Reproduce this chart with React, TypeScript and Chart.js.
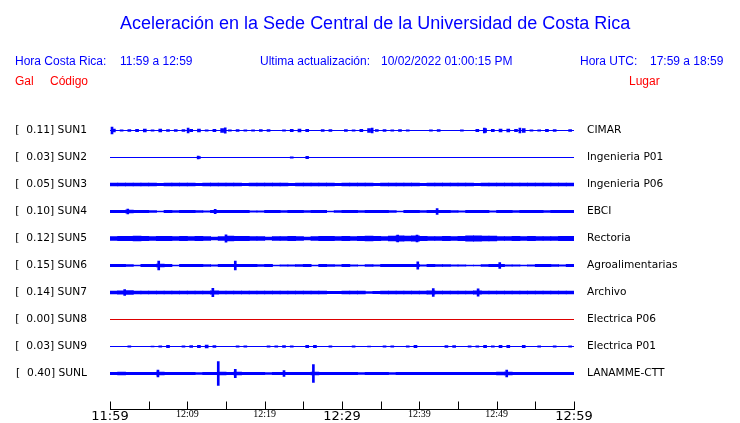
import React, { useEffect, useRef } from "react";
import { Chart, registerables } from "chart.js";
Chart.register(...registerables);

// ---------- data ----------
const codes = ["SUN1", "SUN2", "SUN3", "SUN4", "SUN5", "SUN6", "SUN7", "SUN8", "SUN9", "SUNL"];
const places = ["CIMAR", "Ingenieria P01", "Ingenieria P06", "EBCI", "Rectoria", "Agroalimentarias", "Archivo", "Electrica P06", "Electrica P01", "LANAMME-CTT"];
const peaksGal = [0.11, 0.03, 0.05, 0.1, 0.12, 0.15, 0.14, 0.0, 0.03, 0.4];
const timeLabels = ["11:59", "12:09", "12:19", "12:29", "12:39", "12:49", "12:59"];

// per-minute half envelope (Gal), minute 0..59 from 11:59
const sun1 = [0.05,0.02,0.03,0.04,0.05,0.02,0.05,0.03,0.03,0.03, 0.04,0.05,0.02,0.04,0.06,0.02,0.03,0.02,0.02,0.03, 0.03,0,0.02,0.04,0.05,0.04,0,0.03,0.03,0, 0.03,0.02,0.04,0.06,0.03,0.03,0.02,0.03,0.02,0, 0,0.02,0.03,0,0,0.02,0,0.04,0.06,0.04, 0.05,0.05,0.04,0.06,0.02,0.02,0.04,0.03,0,0.03];
const sun2 = [0,0,0,0,0,0,0,0,0,0, 0,0.03,0,0,0,0,0,0,0,0, 0,0,0,0.02,0,0.03,0,0,0,0, 0,0,0,0,0,0,0,0,0,0, 0,0,0,0,0,0,0,0,0,0, 0,0,0,0,0,0,0,0,0,0];
const sun3 = [0.05,0.05,0.05,0.05,0.05,0.05,0.04,0.05,0.05,0.05, 0.05,0.04,0.05,0.05,0.05,0.05,0.05,0.04,0.05,0.05, 0.05,0.05,0.05,0.04,0.05,0.05,0.05,0.05,0.05,0.04, 0.05,0.05,0.05,0.05,0.04,0.05,0.05,0.05,0.05,0.05, 0.04,0.05,0.05,0.05,0.05,0.05,0.05,0.04,0.05,0.05, 0.05,0.05,0.05,0.05,0.05,0.05,0.05,0.05,0.05,0.05];
const sun4 = [0.035,0.04,0.045,0.035,0.035,0.03,0.015,0.035,0.03,0.035, 0.035,0.03,0.02,0.035,0.04,0.035,0.04,0.035,0.02,0.025, 0.035,0.035,0.03,0.035,0.035,0.03,0.035,0.035,0.015,0.03, 0.035,0.035,0.03,0.035,0.035,0.035,0.03,0.015,0.035,0.035, 0.03,0.035,0.04,0.035,0.03,0.02,0.035,0.035,0.035,0.025, 0.035,0.035,0.03,0.035,0.035,0.035,0.03,0.035,0.035,0.035];
const sun5 = [0.06,0.07,0.07,0.08,0.07,0.06,0.07,0.07,0.06,0.07, 0.06,0.07,0.06,0.05,0.06,0.08,0.07,0.07,0.06,0.06, 0.05,0.06,0.06,0.07,0.06,0.05,0.06,0.07,0.07,0.06, 0.07,0.06,0.07,0.08,0.07,0.06,0.08,0.09,0.08,0.09, 0.07,0.06,0.06,0.07,0.06,0.07,0.09,0.09,0.08,0.08, 0.06,0.06,0.07,0.06,0.07,0.06,0.06,0.06,0.07,0.07];
const sun6 = [0.04,0.04,0.03,0.015,0.04,0.04,0.05,0.04,0.015,0.04, 0.04,0.035,0.03,0.02,0.04,0.04,0.04,0.04,0.035,0.03, 0.035,0.015,0.02,0.02,0.03,0.035,0.015,0.035,0.03,0.02, 0.035,0.02,0.015,0.03,0.02,0.035,0.04,0.04,0.035,0.035, 0.02,0.035,0.03,0.03,0.025,0.02,0.015,0.015,0.03,0.04, 0.035,0.02,0.02,0.015,0.02,0.035,0.035,0.03,0.02,0.035];
const sun7 = [0.05,0.055,0.06,0.05,0.05,0.05,0.05,0.05,0.05,0.05, 0.05,0.05,0.05,0.055,0.05,0.05,0.05,0.05,0.05,0.05, 0.05,0.05,0.05,0.05,0.05,0.05,0.05,0.05,0.04,0.035, 0.05,0.05,0.05,0.03,0.035,0.05,0.05,0.05,0.05,0.045, 0.05,0.055,0.05,0.05,0.045,0.05,0.05,0.055,0.05,0.05, 0.05,0.05,0.05,0.05,0.05,0.05,0.05,0.05,0.05,0.05];
const sun8 = [0,0,0,0,0,0,0,0,0,0, 0,0,0,0,0,0,0,0,0,0, 0,0,0,0,0,0,0,0,0,0, 0,0,0,0,0,0,0,0,0,0, 0,0,0,0,0,0,0,0,0,0, 0,0,0,0,0,0,0,0,0,0];
const sun9 = [0,0,0.02,0,0,0.015,0.02,0.04,0,0.02, 0.03,0.04,0.05,0.03,0,0,0.02,0.02,0,0, 0.02,0.02,0.03,0.02,0,0.04,0.04,0,0.02,0, 0,0.02,0,0.015,0,0.02,0.02,0,0.02,0.035, 0,0,0,0.03,0.03,0,0.02,0.02,0.04,0.02, 0.04,0.04,0,0.04,0,0.02,0,0.02,0,0.02];
const sunL = [0.04,0.045,0.04,0.04,0.035,0.04,0.045,0.04,0.04,0.035, 0.04,0.03,0.04,0.04,0.05,0.04,0.045,0.035,0.04,0.04, 0.03,0.04,0.04,0.035,0.04,0.04,0.05,0.04,0.04,0.035, 0.04,0.04,0.03,0.04,0.035,0.04,0.03,0.04,0.04,0.035, 0.04,0.04,0.035,0.04,0.04,0.035,0.04,0.04,0.04,0.04, 0.045,0.05,0.04,0.035,0.04,0.04,0.035,0.04,0.04,0.04];
const traces = [sun1, sun2, sun3, sun4, sun5, sun6, sun7, sun8, sun9, sunL];

// isolated spikes: trace index, minute, half amplitude (Gal)
const spikeTrace = [0,0,0,0,0,0, 1,1, 3,3,3, 4,4,4, 5,5,5,5, 6,6,6,6, 9,9,9,9,9,9];
const spikeMinute = [0.26,10.1,14.9,33.9,48.4,53.0, 11.4,25.5, 2.3,13.6,42.3, 15.0,37.2,39.7, 6.3,16.2,39.8,50.4, 1.9,13.3,41.8,47.6, 6.2,14.0,16.2,22.5,26.3,51.3];
const spikeAmp = [0.11,0.08,0.09,0.08,0.08,0.08, 0.05,0.04, 0.08,0.07,0.1, 0.12,0.11,0.11, 0.15,0.15,0.12,0.1, 0.1,0.14,0.13,0.12, 0.11,0.4,0.14,0.1,0.3,0.11];

// ---------- style ----------
const BLUE = "#0000ff";
const DEAD = "#dd0000";
const ROWS_PER_GAL = 30 / 27;
const SPARSE = [0, 1, 8];

const upTicks = {
  id: "upTicks",
  afterDraw(chart: any) {
    const s = chart.scales.x;
    const ctx = chart.ctx;
    const y = Math.floor(chart.chartArea.bottom) + 0.5;
    ctx.save();
    ctx.strokeStyle = "#000";
    ctx.lineWidth = 1;
    s.ticks.forEach((t: any) => {
      const px = Math.round(s.getPixelForValue(t.value)) + 0.5;
      ctx.beginPath();
      ctx.moveTo(px, y);
      ctx.lineTo(px, y - 8);
      ctx.stroke();
    });
    ctx.restore();
  },
};

export default function App() {
  const ref = useRef<HTMLCanvasElement>(null);
  useEffect(() => {
    const datasets: any[] = [];
    traces.forEach((arr, i) => {
      datasets.push({
        type: "line",
        data: [{ x: 0, y: i }, { x: 60, y: i }],
        borderColor: i === 7 ? DEAD : BLUE,
        borderWidth: 1,
        pointRadius: 0,
        yAxisID: "y",
      });
      const pts = arr
        .map((a, m) => ({ x: m + 0.5, y: [i - a * ROWS_PER_GAL, i + a * ROWS_PER_GAL], a }))
        .filter((p) => p.a > 0)
        .map((p) => ({ x: p.x, y: p.y }));
      if (pts.length) {
        datasets.push({
          type: "bar",
          data: pts,
          backgroundColor: BLUE,
          borderWidth: 0,
          barThickness: SPARSE.includes(i) ? 3 : 8,
          grouped: false,
          yAxisID: "y",
        });
      }
    });
    datasets.push({
      type: "bar",
      data: spikeTrace.map((t, k) => ({
        x: spikeMinute[k],
        y: [t - spikeAmp[k] * ROWS_PER_GAL, t + spikeAmp[k] * ROWS_PER_GAL],
      })),
      backgroundColor: BLUE,
      borderWidth: 0,
      barThickness: 2,
      grouped: false,
      yAxisID: "y",
    });

    const rowTicks = (s: any) => {
      s.ticks = codes.map((_, i) => ({ value: i }));
    };
    const fixWidth = (w: number) => (s: any) => {
      s.width = w;
      s.paddingTop = 0;
      s.paddingBottom = 0;
    };

    const chart = new Chart(ref.current!, {
      type: "bar",
      data: { datasets },
      plugins: [upTicks],
      options: {
        responsive: false,
        animation: false,
        devicePixelRatio: 1,
        layout: { padding: { top: 103.5, left: 0, right: 0, bottom: 0 } },
        plugins: { legend: { display: false }, tooltip: { enabled: false } },
        scales: {
          x: {
            type: "linear",
            min: 0,
            max: 60,
            offset: false,
            position: "bottom",
            grid: { display: true, drawOnChartArea: false, drawTicks: false },
            border: { display: true, color: "#000", width: 1 },
            afterFit: (s: any) => {
              s.height = 13.5;
              s.paddingLeft = 0;
              s.paddingRight = 0;
            },
            ticks: {
              stepSize: 5,
              autoSkip: false,
              maxRotation: 0,
              padding: -1,
              color: "#000",
              callback: (v: any) => (Number(v) % 10 === 0 ? timeLabels[Number(v) / 10] : ""),
              font: (ctx: any) => {
                const v = ctx.tick ? ctx.tick.value : 0;
                return v % 30 === 0
                  ? { family: "DejaVu Sans", size: 13 }
                  : { family: "Liberation Serif", size: 10 };
              },
            },
          },
          y: {
            type: "linear",
            position: "left",
            reverse: true,
            min: -1,
            max: 31 / 3,
            grid: { display: false, drawTicks: false },
            border: { display: false },
            afterBuildTicks: rowTicks,
            afterFit: fixWidth(110),
            ticks: {
              padding: 23,
              color: "#000",
              font: { family: "DejaVu Sans", size: 10.7 },
              callback: (v: any) => `[  ${peaksGal[Number(v)].toFixed(2)}] ${codes[Number(v)]}`,
            },
          },
          y2: {
            type: "linear",
            position: "right",
            reverse: true,
            min: -1,
            max: 31 / 3,
            grid: { display: false, drawTicks: false },
            border: { display: false },
            afterBuildTicks: rowTicks,
            afterFit: fixWidth(166),
            ticks: {
              padding: 13,
              color: "#000",
              font: { family: "DejaVu Sans", size: 10.6 },
              callback: (v: any) => places[Number(v)],
            },
          },
        },
      },
    });
    return () => chart.destroy();
  }, []);

  const t = (left: number, top: number, size: number, color: string, text: string) => (
    <div
      style={{
        position: "absolute",
        left,
        top,
        fontFamily: "'Liberation Sans', Arial, sans-serif",
        fontSize: size,
        lineHeight: `${size}px`,
        color,
        whiteSpace: "pre",
      }}
    >
      {text}
    </div>
  );

  return (
    <div style={{ position: "absolute", left: 0, top: 0, width: 740, height: 423, background: "#fff" }}>
      <canvas ref={ref} width={740} height={423} style={{ position: "absolute", left: 0, top: 0 }} />
      {t(120, 14, 18, BLUE, "Aceleración en la Sede Central de la Universidad de Costa Rica")}
      {t(15, 55, 12, BLUE, "Hora Costa Rica:")}
      {t(120, 55, 12, BLUE, "11:59 a 12:59")}
      {t(260, 55, 12, BLUE, "Ultima actualización:")}
      {t(381, 55, 12, BLUE, "10/02/2022 01:00:15 PM")}
      {t(580, 55, 12, BLUE, "Hora UTC:")}
      {t(650, 55, 12, BLUE, "17:59 a 18:59")}
      {t(15, 75, 12, "#ff0000", "Gal")}
      {t(50, 75, 12, "#ff0000", "Código")}
      {t(629, 75, 12, "#ff0000", "Lugar")}
    </div>
  );
}
